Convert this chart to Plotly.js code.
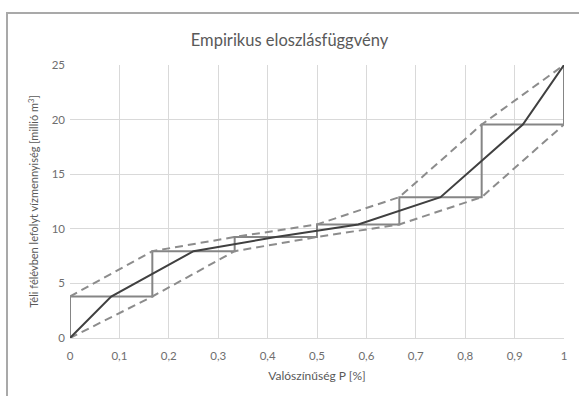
<!DOCTYPE html>
<html>
<head>
<meta charset="utf-8">
<script src="https://cdn.plot.ly/plotly-3.0.1.min.js"></script>
<style>
  html, body { margin: 0; padding: 0; background: #ffffff; }
  #wrap { position: relative; width: 579px; height: 396px; overflow: hidden; }
  #chart { position: absolute; left: 0; top: 0; width: 579px; height: 396px; }
  #frame { position: absolute; left: 6px; top: 12px; width: 600px; height: 400px;
           border-top: 2px solid #a9a9a9; border-left: 2px solid #a9a9a9; pointer-events: none; }
</style>
</head>
<body>
<div id="wrap">
  <div id="chart"></div>
  <div id="frame"></div>
</div>
<script>
// Sorted winter runoff volumes (million m3), with 0 as the lower bound and 25 as the upper bound
const levels = [0, 3.8, 7.95, 9.25, 10.4, 12.9, 19.55, 25];
// Class boundaries of the empirical distribution (n = 6)
const stepP = [0, 1/6, 2/6, 3/6, 4/6, 5/6, 1];
// Midpoints of the classes, with the two ends
const midP = [0, 1/12, 3/12, 5/12, 7/12, 9/12, 11/12, 1];
// Axis ticks
const xTickVals = [0, 0.1, 0.2, 0.3, 0.4, 0.5, 0.6, 0.7, 0.8, 0.9, 1];
const xTickText = ["0", "0,1", "0,2", "0,3", "0,4", "0,5", "0,6", "0,7", "0,8", "0,9", "1"];
const yTickVals = [0, 5, 10, 15, 20, 25];

// Step function: rises at each class boundary
const stepX = [0].concat(stepP, [1]);
const stepY = levels.slice(0, 1).concat(levels.slice(1, 7), [levels[6], levels[7]]);

// Upper band through the top-left corners, lower band through the bottom-right corners
const upperY = levels.slice(1, 8);
const lowerY = levels.slice(0, 7);

const font = "Lato, 'Liberation Sans', sans-serif";
const textCol = "#595959";
const tickCol = "#6e6e6e";

const traces = [
  { x: stepX, y: stepY, mode: "lines", line: { shape: "hv", color: "#858585", width: 2 }, hoverinfo: "skip" },
  { x: stepP, y: upperY, mode: "lines", line: { color: "#8c8c8c", width: 2, dash: "8px,5px" }, hoverinfo: "skip" },
  { x: stepP, y: lowerY, mode: "lines", line: { color: "#8c8c8c", width: 2, dash: "8px,5px" }, hoverinfo: "skip" },
  { x: midP, y: levels, mode: "lines", line: { color: "#404040", width: 2 }, hoverinfo: "skip" }
];

const layout = {
  width: 579, height: 396,
  margin: { l: 70, r: 15, t: 65, b: 58, pad: 0 },
  paper_bgcolor: "rgba(0,0,0,0)",
  plot_bgcolor: "#ffffff",
  showlegend: false,
  title: { text: "Empirikus eloszlásfüggvény", x: 0.5, xanchor: "center", y: 1 - 40/396, yanchor: "middle",
           font: { family: font, size: 16.5, color: textCol } },
  xaxis: {
    range: [0, 1], tickvals: xTickVals, ticktext: xTickText,
    showgrid: true, gridcolor: "#d9d9d9", gridwidth: 1,
    showline: true, linecolor: "#d9d9d9", linewidth: 1,
    zeroline: false, ticks: "", ticklen: 0, ticklabelstandoff: 7,
    tickfont: { family: font, size: 11.5, color: tickCol },
    title: { text: "Valószínűség P [%]", standoff: 10, font: { family: font, size: 12, color: textCol } }
  },
  yaxis: {
    range: [0, 25], tickvals: yTickVals,
    showgrid: true, gridcolor: "#d9d9d9", gridwidth: 1,
    showline: false, zeroline: false, ticks: "", ticklabelstandoff: 4,
    tickfont: { family: font, size: 11.5, color: tickCol },
    title: { text: "Téli félévben lefolyt vízmennyiség [millió m<sup>3</sup>]", standoff: 10,
             font: { family: font, size: 11, color: textCol } }
  }
};

Plotly.newPlot("chart", traces, layout, { staticPlot: true, displayModeBar: false });
</script>
</body>
</html>
